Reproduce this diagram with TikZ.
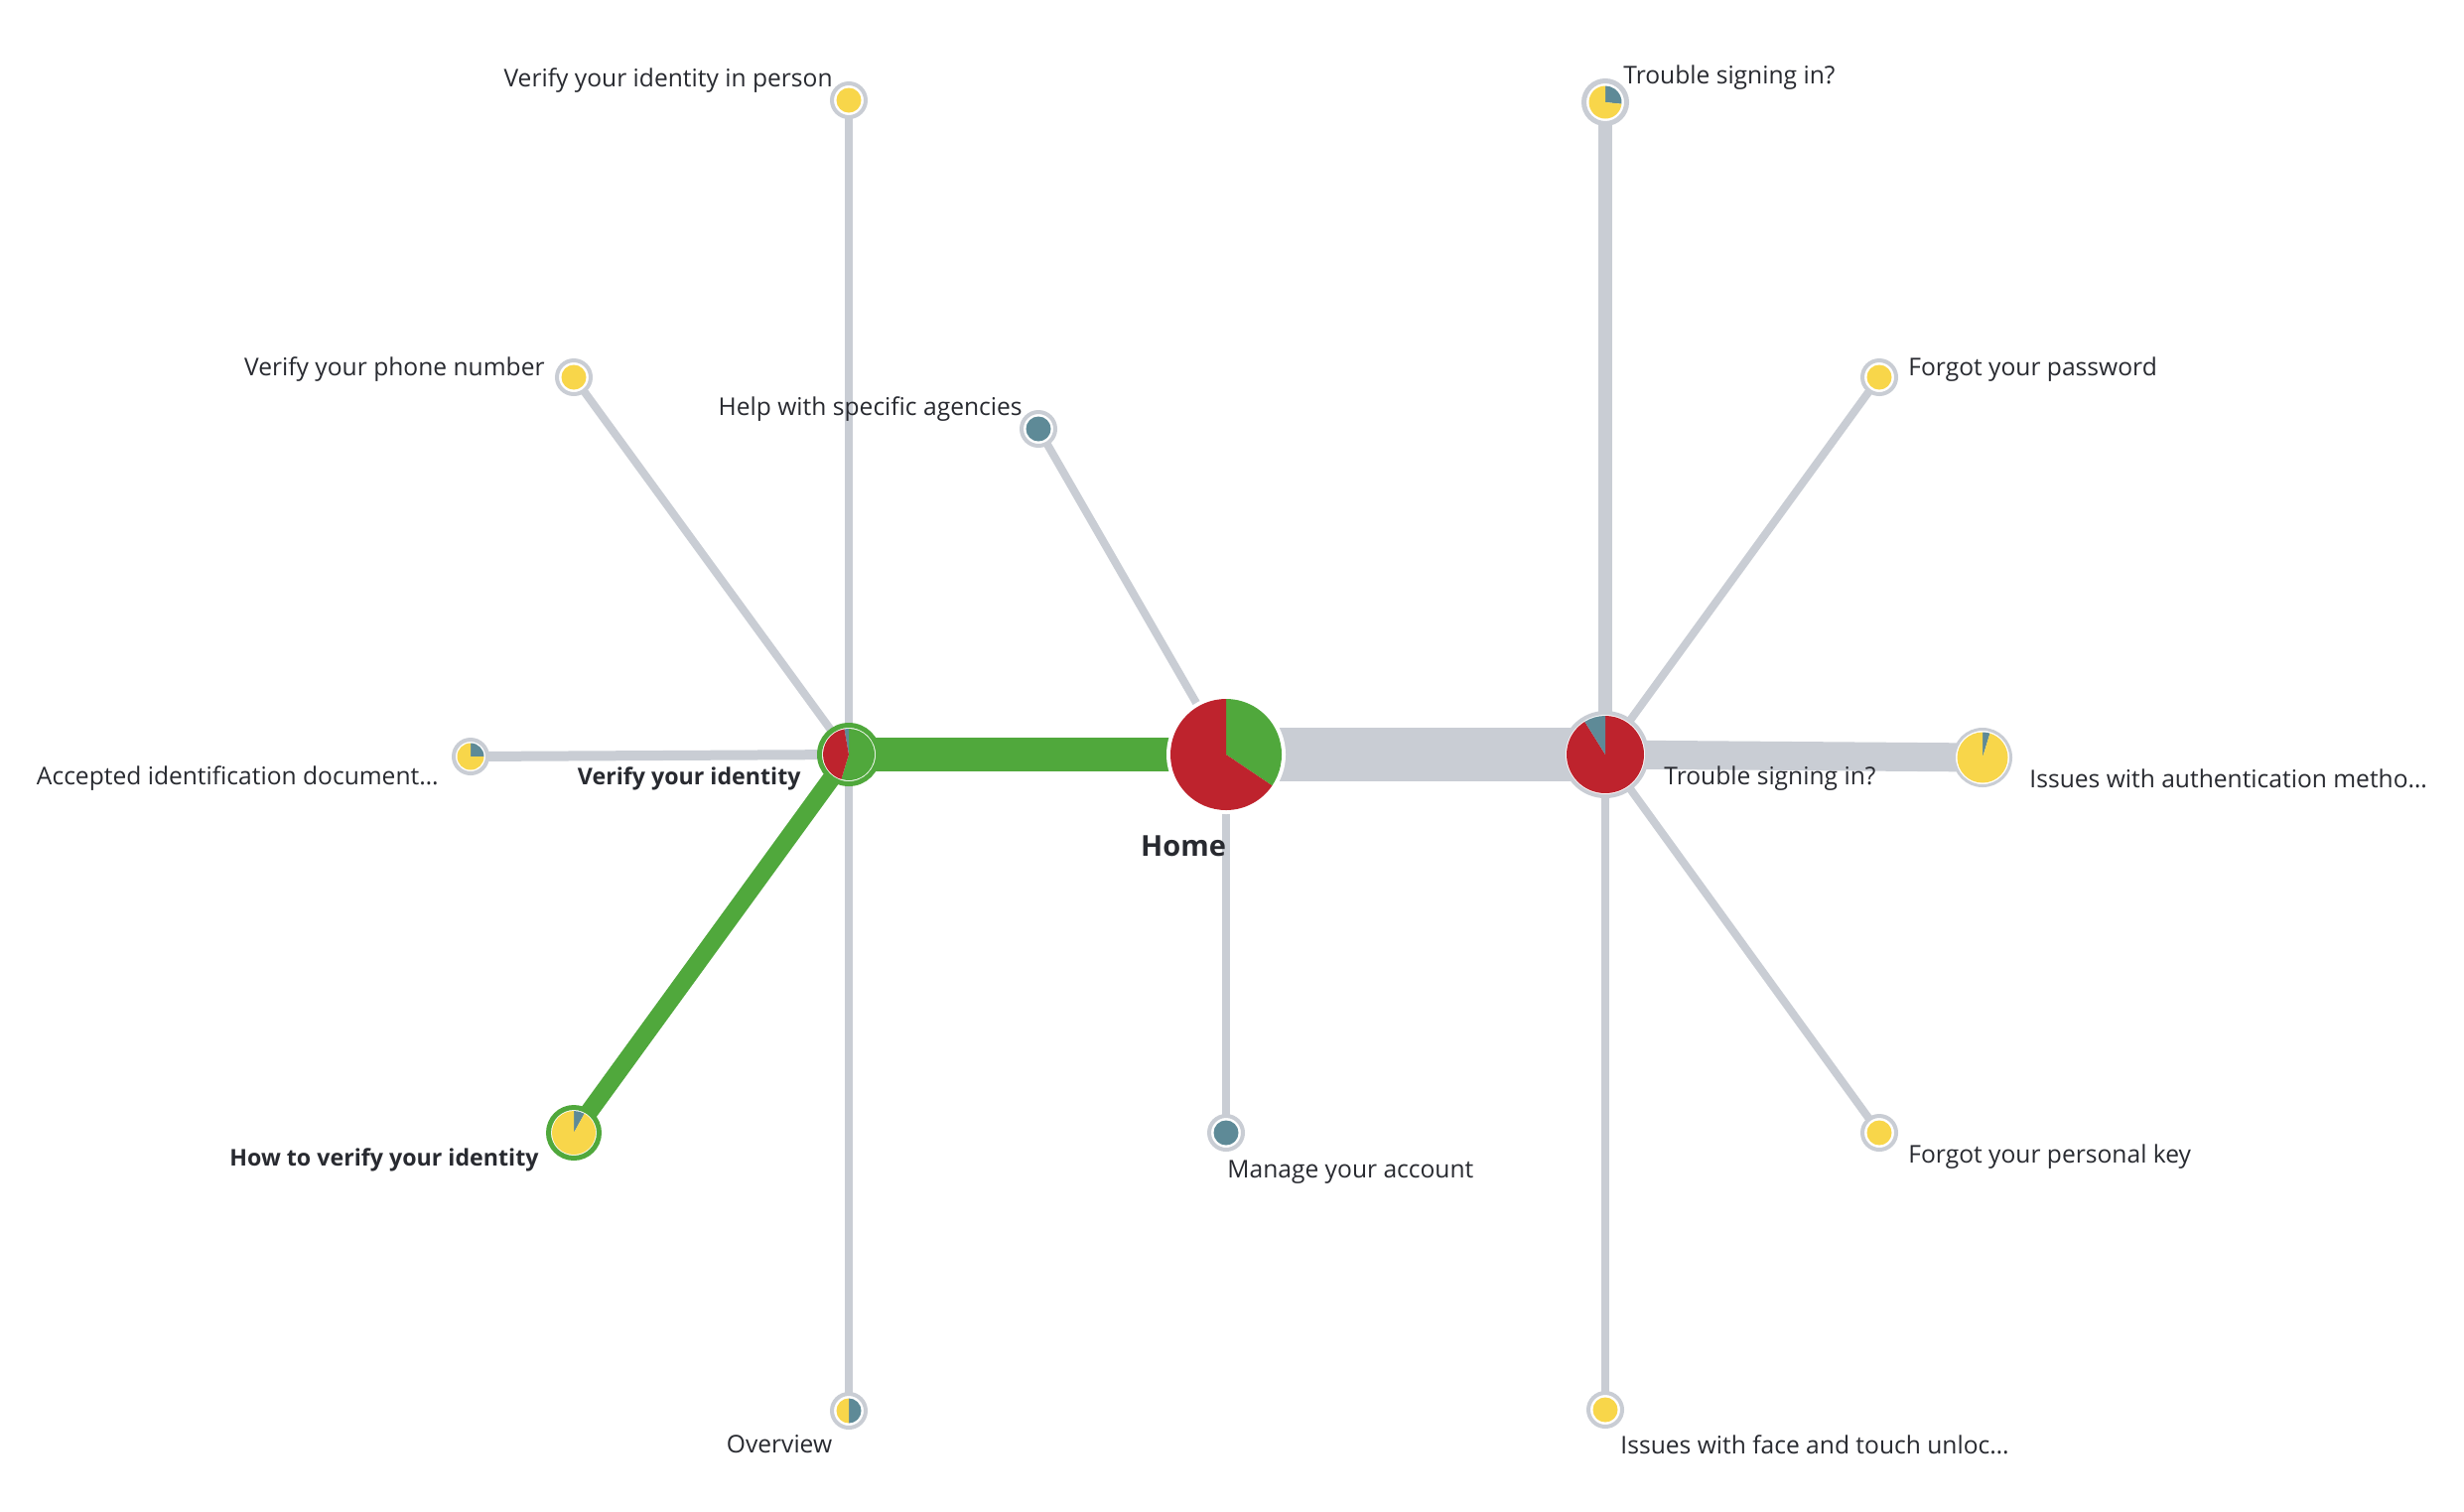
\documentclass[tikz,border=0pt]{standalone}
\usepackage{fontspec}
\setmainfont{Open Sans}
\usepackage{tikz}
\usetikzlibrary{positioning,backgrounds}
\definecolor{flowgreen}{RGB}{80,168,60}
\definecolor{exitred}{RGB}{190,35,45}
\definecolor{pageyellow}{RGB}{248,214,74}
\definecolor{otherteal}{RGB}{94,138,151}
\definecolor{edgegrey}{RGB}{201,205,212}
\definecolor{labeltext}{RGB}{40,42,48}
% slice of a pie: node, colour, start angle, end angle, radius
\newcommand{\pieslice}[5]{\fill[#2] (#1.center) -- ++(#3:#5) arc[start angle=#3, end angle=#4, radius=#5] -- cycle;}
\newcommand{\piedisc}[3]{\fill[#2] (#1.center) circle[radius=#3];}

\begin{document}
\begin{tikzpicture}[
  x=0.5pt, y=-0.5pt,
  hub/.style={circle, fill=white, inner sep=0pt},
  leaf/.style={circle, draw=edgegrey, line width=2pt, fill=white,
               minimum size=17pt, inner sep=0pt},
  link/.style={draw=edgegrey, line width=4pt},
  flow/.style={draw=flowgreen},
  lbl/.style={font=\fontsize{12.3}{14}\selectfont, text=labeltext, inner sep=0pt},
  blbl/.style={lbl, font=\fontsize{11.6}{14}\selectfont\bfseries}
]
\useasboundingbox (0,0) rectangle (2482,1522);

% hubs
\node[hub, minimum size=60pt] (home) at (1235,760) {};
\node[hub, draw=flowgreen, line width=2.5pt, minimum size=29.5pt] (verify) at (855,760) {};
\node[hub, draw=edgegrey, line width=2pt, minimum size=42pt] (trouble) at (1617,760) {};

% pages
\node[leaf] (inperson) at (855,101) {};
\node[leaf] (phone) at (578,380) {};
\node[leaf] (agencies) at (1046,432) {};
\node[leaf] (accepted) at (474,762) {};
\node[hub, draw=flowgreen, line width=2.5pt, minimum size=25.5pt] (howto) at (578,1141) {};
\node[leaf] (overview) at (855,1421) {};
\node[leaf] (manage) at (1235,1141) {};
\node[hub, draw=edgegrey, line width=2.5pt, minimum size=21.5pt] (troubletop) at (1617,103) {};
\node[leaf] (password) at (1893,380) {};
\node[hub, draw=edgegrey, line width=1.5pt, minimum size=28.5pt] (issuesauth) at (1997,763) {};
\node[leaf] (personalkey) at (1893,1141) {};
\node[leaf] (facetouch) at (1617,1420) {};

% connectors
\begin{scope}[on background layer]
\fill[white] (0,0) rectangle (2482,1522);
\draw[link] (verify.center) -- (inperson.center);
\draw[link] (verify.center) -- (phone.center);
\draw[link] (verify.center) -- (overview.center);
\draw[link, line width=5pt] (verify.center) -- (accepted.center);
\draw[flow, line width=9pt] (verify.center) -- (howto.center);
\draw[link] (home.center) -- (agencies.center);
\draw[link] (home.center) -- (manage.center);
\draw[flow, line width=17pt] (verify.center) -- (home.center);
\draw[link, line width=27pt] (home.center) -- (trouble.center);
\draw[link, line width=7pt] (trouble.center) -- (troubletop.center);
\draw[link] (trouble.center) -- (password.center);
\draw[link, line width=14.5pt] (trouble.center) -- (issuesauth.center);
\draw[link] (trouble.center) -- (personalkey.center);
\draw[link] (trouble.center) -- (facetouch.center);
\end{scope}

% pies
\pieslice{home}{flowgreen}{-34}{90}{28pt}
\pieslice{home}{exitred}{90}{326}{28pt}
\pieslice{verify}{flowgreen}{-107}{90}{13pt}
\pieslice{verify}{otherteal}{90}{100}{13pt}
\pieslice{verify}{exitred}{100}{253}{13pt}
\pieslice{trouble}{exitred}{-238}{90}{19.5pt}
\pieslice{trouble}{otherteal}{90}{122}{19.5pt}
\pieslice{issuesauth}{otherteal}{73}{90}{12.75pt}
\pieslice{issuesauth}{pageyellow}{90}{433}{12.75pt}
\pieslice{howto}{otherteal}{61}{90}{11pt}
\pieslice{howto}{pageyellow}{90}{421}{11pt}
\pieslice{troubletop}{otherteal}{-6}{90}{8.25pt}
\pieslice{troubletop}{pageyellow}{90}{354}{8.25pt}
\pieslice{accepted}{otherteal}{0}{90}{6.75pt}
\pieslice{accepted}{pageyellow}{90}{360}{6.75pt}
\pieslice{overview}{otherteal}{-90}{90}{6.25pt}
\pieslice{overview}{pageyellow}{90}{270}{6.25pt}
\piedisc{agencies}{otherteal}{6.25pt}
\piedisc{manage}{otherteal}{6.25pt}
\piedisc{inperson}{pageyellow}{6.25pt}
\piedisc{phone}{pageyellow}{6.25pt}
\piedisc{password}{pageyellow}{6.25pt}
\piedisc{personalkey}{pageyellow}{6.25pt}
\piedisc{facetouch}{pageyellow}{6.25pt}

% labels
\node[lbl, anchor=east] (inpersonlbl) at (839,81) {Verify your identity in person};
\node[lbl, anchor=east] (phonelbl) at (549,372) {Verify your phone number};
\node[lbl, anchor=east] (agencieslbl) at (1030,412) {Help with specific agencies};
\node[lbl, anchor=east] (acceptedlbl) at (442,784) {Accepted identification document…};
\node[blbl, anchor=east] (verifylbl) at (807,784) {Verify your identity};
\node[blbl, anchor=east] (howtolbl) at (543,1168) {How to verify your identity};
\node[lbl] (overviewlbl) at (785,1455) {Overview};
\node[blbl, font=\fontsize{14.5}{16}\selectfont\bfseries] (homelbl) at (1192,852) {Home};
\node[lbl, anchor=west] (managelbl) at (1236,1181) {Manage your account};
\node[lbl, anchor=west] (troubletoplbl) at (1635,78) {Trouble signing in?};
\node[lbl, anchor=west] (passwordlbl) at (1922,372) {Forgot your password};
\node[lbl, anchor=west] (troublelbl) at (1676,784) {Trouble signing in?};
\node[lbl, anchor=west] (issuesauthlbl) at (2044,784) {Issues with authentication metho…};
\node[lbl, anchor=west] (personalkeylbl) at (1922,1165) {Forgot your personal key};
\node[lbl, anchor=west] (facetouchlbl) at (1632,1455) {Issues with face and touch unloc…};
\end{tikzpicture}
\end{document}
